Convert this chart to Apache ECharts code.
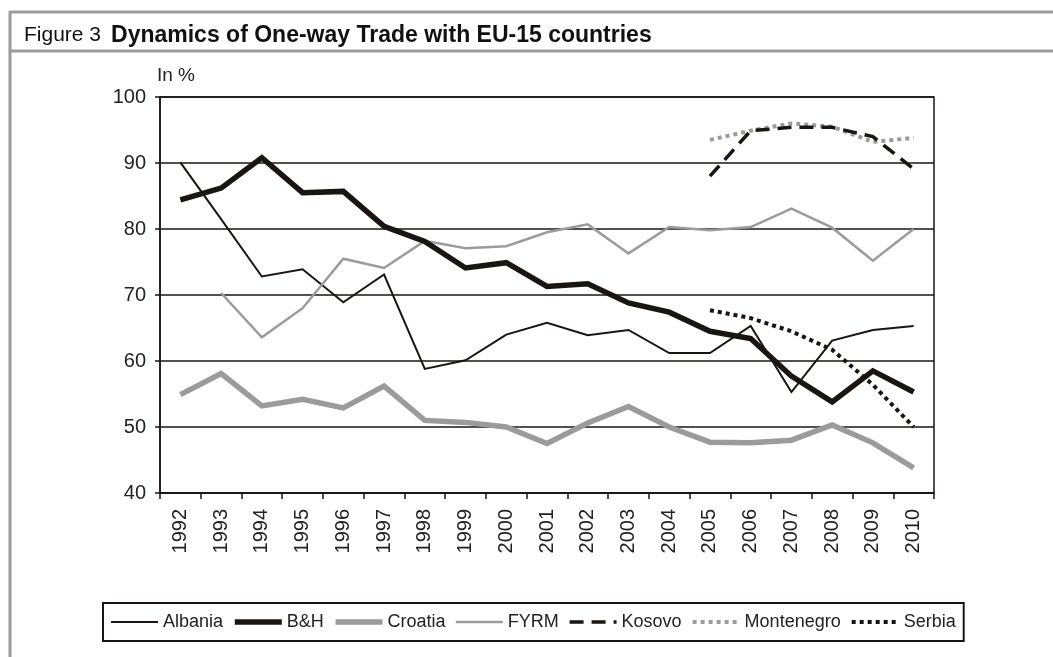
<!DOCTYPE html>
<html>
<head>
<meta charset="utf-8">
<title>Dynamics of One-way Trade with EU-15 countries</title>
<script src="https://cdn.jsdelivr.net/npm/echarts@6/dist/echarts.min.js"></script>
<style>
  html, body { margin: 0; padding: 0; background: #fff; }
  #chart { width: 1053px; height: 657px; }
</style>
</head>
<body>
<div id="chart"></div>
<script>
// data (share of one-way trade, %)
var years = ['1992','1993','1994','1995','1996','1997','1998','1999','2000','2001',
             '2002','2003','2004','2005','2006','2007','2008','2009','2010'];
var albania    = [90.1, 81.5, 72.8, 73.9, 68.9, 73.1, 58.8, 60.1, 64.0, 65.8, 63.9, 64.7, 61.2, 61.2, 65.3, 55.3, 63.1, 64.7, 65.3];
var bih        = [84.4, 86.2, 90.8, 85.5, 85.7, 80.4, 78.1, 74.1, 74.9, 71.3, 71.7, 68.8, 67.4, 64.5, 63.4, 57.7, 53.8, 58.5, 55.3];
var croatia    = [54.9, 58.1, 53.2, 54.2, 52.9, 56.2, 51.0, 50.7, 50.0, 47.5, 50.6, 53.1, 50.0, 47.7, 47.6, 48.0, 50.3, 47.6, 43.8];
var fyrm       = [null, 70.3, 63.6, 68.0, 75.5, 74.1, 78.2, 77.1, 77.4, 79.5, 80.7, 76.3, 80.3, 79.8, 80.3, 83.1, 80.2, 75.2, 80.0];
var kosovo     = [null, null, null, null, null, null, null, null, null, null, null, null, null, 88.0, 94.9, 95.4, 95.4, 94.0, 89.1];
var montenegro = [null, null, null, null, null, null, null, null, null, null, null, null, null, 93.5, 94.9, 96.0, 95.5, 93.2, 93.8];
var serbia     = [null, null, null, null, null, null, null, null, null, null, null, null, null, 67.7, 66.5, 64.5, 61.7, 56.4, 50.0];

var dark = '#1a1512';
var grey = '#9b9b9b';
var font = '"Liberation Sans", Arial, sans-serif';

// name, data, colour, width, dash
var styles = [
    ['Albania', albania, dark, 2, 'solid'],
    ['B&H', bih, dark, 5.5, 'solid'],
    ['Croatia', croatia, grey, 5.5, 'solid'],
    ['FYRM', fyrm, grey, 2.5, 'solid'],
    ['Kosovo', kosovo, dark, 3.5, [14, 8]],
    ['Montenegro', montenegro, grey, 4, [4, 4]],
    ['Serbia', serbia, dark, 4, [4, 4]]
];
// drawing order (later on top)
var order = ['Albania', 'Croatia', 'FYRM', 'Montenegro', 'B&H', 'Kosovo', 'Serbia'];

function byName(n) {
    for (var i = 0; i < styles.length; i++) if (styles[i][0] === n) return styles[i];
}

var series = order.map(function (n) {
    var s = byName(n);
    return {
        name: s[0],
        type: 'line',
        data: s[1],
        symbol: 'none',
        animation: false,
        lineStyle: { color: s[2], width: s[3], type: s[4], cap: 'butt', join: 'miter' },
        itemStyle: { color: s[2] }
    };
});

var legendData = styles.map(function (s) {
    return {
        name: s[0],
        itemStyle: { opacity: 0 },
        lineStyle: { color: s[2], width: s[3], type: s[4], cap: 'butt' }
    };
});

var chart = echarts.init(document.getElementById('chart'));
chart.setOption({
    backgroundColor: '#fff',
    animation: false,
    title: {
        left: 19,
        top: 19,
        text: '{a|Figure 3}  {b|Dynamics of One-way Trade with EU-15 countries}',
        textStyle: {
            fontWeight: 'normal',
            rich: {
                a: { fontFamily: font, fontSize: 21, fontWeight: 'normal', color: '#111' },
                b: { fontFamily: font, fontSize: 23, fontWeight: 'bold', color: '#111' }
            }
        }
    },
    graphic: [
        { type: 'line', shape: { x1: 10, y1: 12, x2: 1053, y2: 12 }, style: { stroke: grey, lineWidth: 3 } },
        { type: 'line', shape: { x1: 10, y1: 51, x2: 1053, y2: 51 }, style: { stroke: grey, lineWidth: 3 } },
        { type: 'line', shape: { x1: 10, y1: 11, x2: 10, y2: 657 }, style: { stroke: grey, lineWidth: 3 } }
    ],
    grid: {
        left: 160, right: 119, top: 97, bottom: 164,
        show: true,
        borderColor: dark,
        borderWidth: 1.5
    },
    legend: {
        left: 103,
        top: 603,
        padding: [10, 8, 10, 7],
        borderColor: dark,
        borderWidth: 2,
        itemWidth: 47,
        itemHeight: 14,
        itemGap: 9,
        itemStyle: { opacity: 0 },
        textStyle: { fontFamily: font, fontSize: 18, color: '#222' },
        data: legendData
    },
    xAxis: {
        type: 'category',
        data: years,
        boundaryGap: true,
        axisLine: { lineStyle: { color: dark, width: 1.5 } },
        axisTick: { show: true, interval: 0, length: 6, lineStyle: { color: dark, width: 1.5 } },
        axisLabel: { interval: 0, rotate: 90, margin: 16, fontFamily: font, fontSize: 20, color: '#222' },
        splitLine: { show: false }
    },
    yAxis: {
        type: 'value',
        min: 40,
        max: 100,
        interval: 10,
        name: 'In %',
        nameLocation: 'end',
        nameGap: 12,
        nameTextStyle: { fontFamily: font, fontSize: 19, color: '#222', align: 'left', padding: [0, 0, 0, -3] },
        axisLine: { show: true, lineStyle: { color: dark, width: 1.5 } },
        axisTick: { show: true, length: 5, lineStyle: { color: dark, width: 1.5 } },
        axisLabel: { margin: 14, fontFamily: font, fontSize: 20, color: '#222' },
        splitLine: { show: true, lineStyle: { color: dark, width: 1.5 } }
    },
    series: series
});
</script>
</body>
</html>
